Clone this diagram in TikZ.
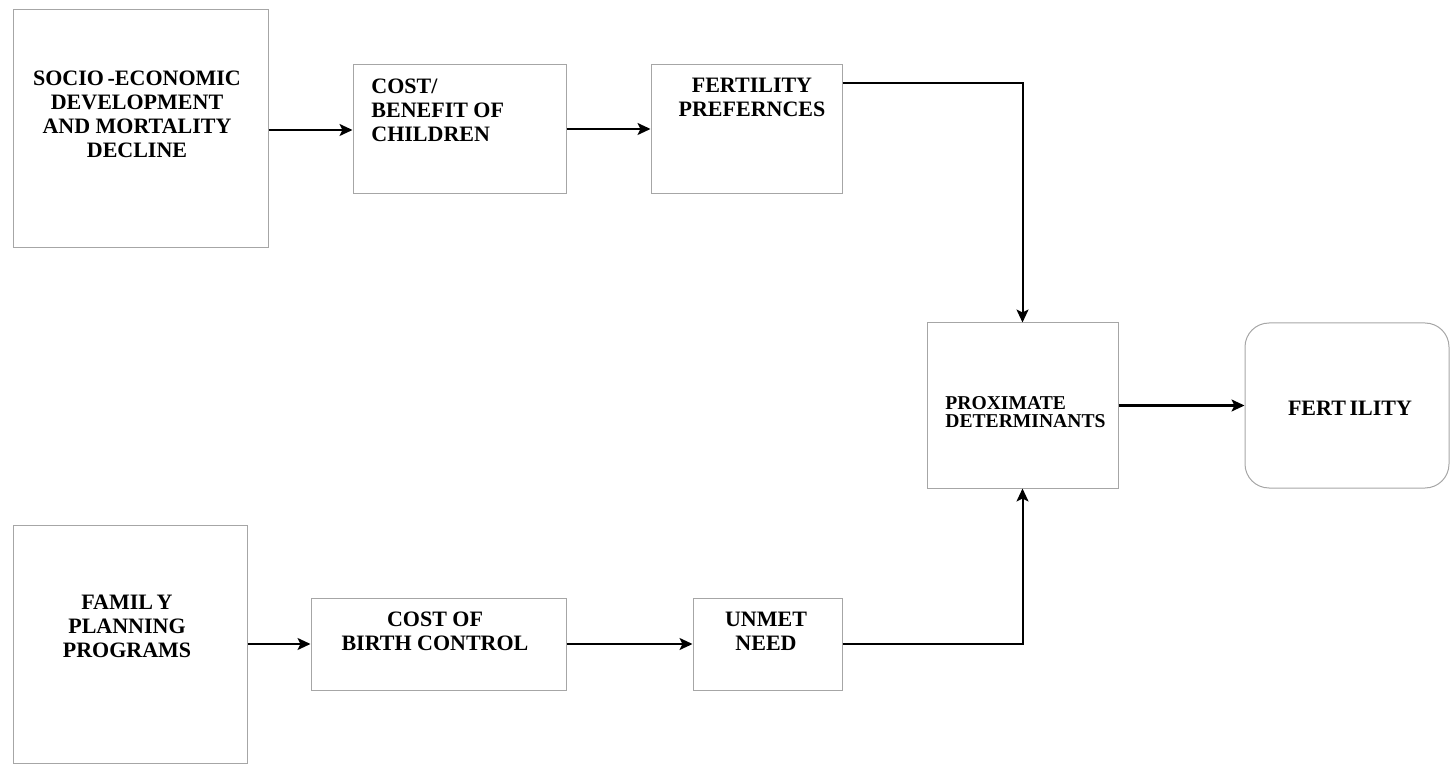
\documentclass[tikz,border=0pt]{standalone}
\usepackage{fontspec}
\setmainfont{Liberation Serif}
\usetikzlibrary{calc,arrows.meta}

\begin{document}
\begin{tikzpicture}[x=0.5pt,y=-0.5pt,
    box/.style={draw=black!35, line width=0.5pt, inner sep=0pt},
    lbl/.style={font=\fontsize{11}{12}\selectfont\bfseries, align=center, inner sep=0pt},
    arr/.style={line width=1pt, -{Stealth[length=6.5pt,width=6pt,inset=1.5pt]}}]
		\useasboundingbox (0,0) rectangle (1450,764);% Fixes the page size

		% Boxes of the upper row
		\node[box, minimum width=127.5pt, minimum height=119pt] (SocioBox) at (140.5,129) {};
		\node[box, minimum width=106.5pt, minimum height=64.5pt] (CostBox) at (459.5,129.5) {};
		\node[box, minimum width=95.5pt, minimum height=64.5pt] (PrefBox) at (746.5,129.5) {};
		% Boxes on the right
		\node[box, minimum width=95.5pt, minimum height=82.5pt] (ProxBox) at (1022.5,405.5) {};
		\node[box, rounded corners=12pt, minimum width=102pt, minimum height=82.5pt] (FertBox) at (1347,405.5) {};
		% Boxes of the lower row
		\node[box, minimum width=117pt, minimum height=119pt] (FamBox) at (130,644) {};
		\node[box, minimum width=127.5pt, minimum height=46pt] (BirthBox) at (438.5,644) {};
		\node[box, minimum width=74.5pt, minimum height=46pt] (NeedBox) at (767.5,644) {};

		% Their texts
		\node[lbl] (SocioText) at (137,114) {SOCIO\,-ECONOMIC\\DEVELOPMENT\\AND MORTALITY\\DECLINE};
		\node[lbl, anchor=west, align=left] (CostText) at (371,110) {COST/\\BENEFIT OF\\CHILDREN};
		\node[lbl] (PrefText) at (752,97) {FERTILITY\\PREFERNCES};
		\node[lbl, anchor=west, align=left, font=\fontsize{9.8}{9}\selectfont\bfseries] (ProxText) at (945,412) {PROXIMATE\\DETERMINANTS};
		\node[lbl] (FertText) at (1350,408) {FERT\,ILITY};
		\node[lbl] (FamText) at (127,626) {FAMIL\,Y\\PLANNING\\PROGRAMS};
		\node[lbl] (BirthText) at (435,631) {COST OF\\BIRTH CONTROL};
		\node[lbl] (NeedText) at (766,631) {UNMET\\NEED};

		% Connectors
		\draw[arr] (SocioBox.east |- 0,130) -- (CostBox.west |- 0,130);
		\draw[arr] (CostBox.east |- 0,129) -- (PrefBox.west |- 0,129);
		\draw[arr] ($(PrefBox.north east)+(0,19)$) -| (ProxBox.north);
		\draw[arr] (ProxBox.east) -- (FertBox.west);
		\draw[arr] (FamBox.east) -- (BirthBox.west);
		\draw[arr] (BirthBox.east) -- (NeedBox.west);
		\draw[arr] (NeedBox.east) -| (ProxBox.south);
\end{tikzpicture}
\end{document}
